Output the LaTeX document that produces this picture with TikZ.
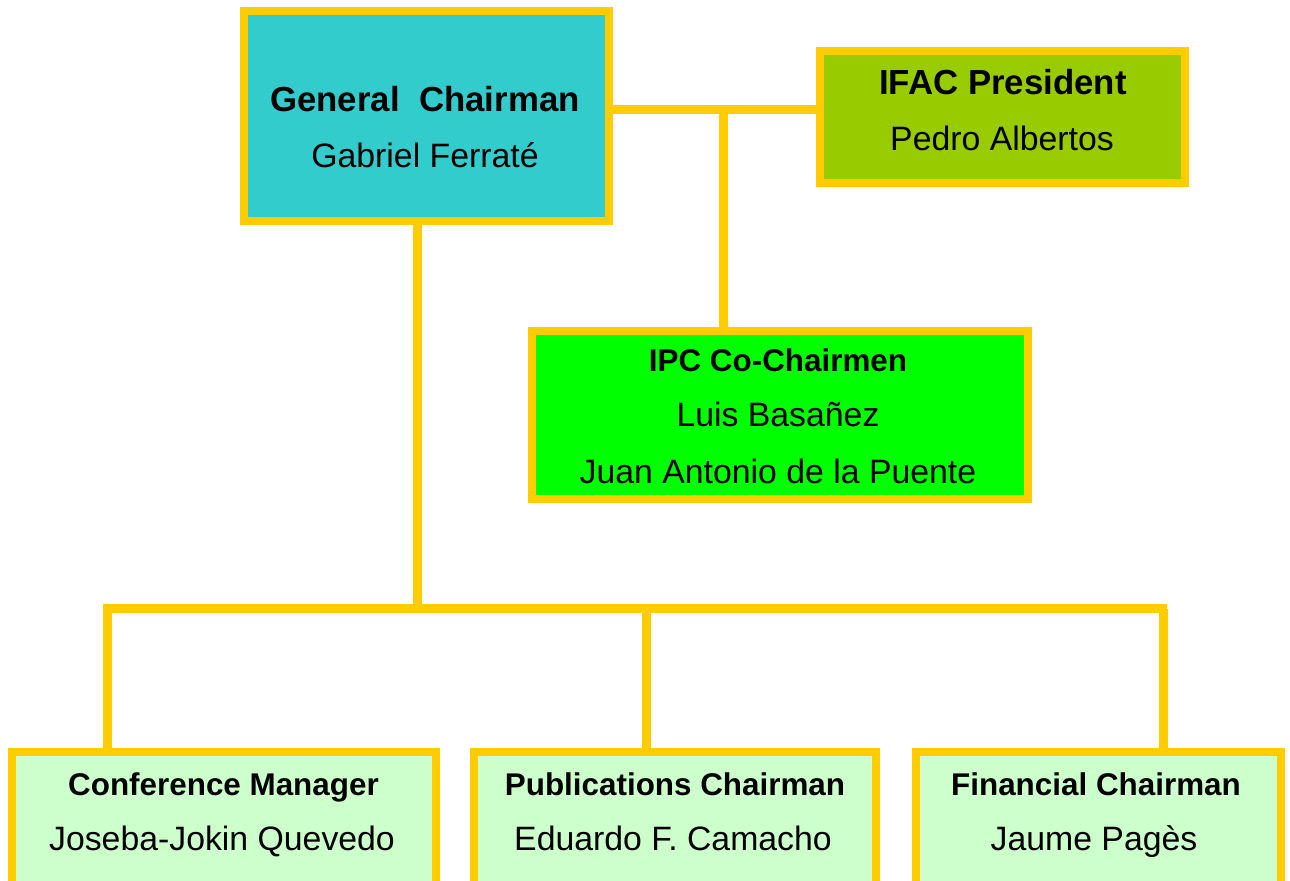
\documentclass[tikz,border=0pt]{standalone}
\usepackage{fontspec}
\setmainfont{Liberation Sans}
\usetikzlibrary{positioning}
\definecolor{frame}{HTML}{FFCC00}
\definecolor{gencol}{HTML}{33CCCC}
\definecolor{ifaccol}{HTML}{99CC00}
\definecolor{ipccol}{HTML}{00FF00}
\definecolor{subcol}{HTML}{CCFFCC}

\begin{document}
\begin{tikzpicture}[
            x=0.5pt, y=-0.5pt,
            post/.style={draw=frame, line width=4pt, inner sep=0pt},
            link/.style={frame, line width=4.5pt},
            bigrole/.style={anchor=base, font=\bfseries\fontsize{17.4}{20}\selectfont},
            role/.style={anchor=base, font=\bfseries\fontsize{15.7}{18}\selectfont},
            person/.style={anchor=base, font=\fontsize{16.9}{20}\selectfont}
        ]
            \useasboundingbox (0,0) rectangle (1290,881);
            \clip (0,0) rectangle (1290,881);
            % boxes
            \node [post, fill=gencol, minimum width=182.5pt, minimum height=105pt] (gen) at (426.5,116) {};
            \node [post, fill=ifaccol, minimum width=182.5pt, minimum height=66pt] (ifac) at (1002.5,117) {};
            \node [post, fill=ipccol, minimum width=248pt, minimum height=84pt] (ipc) at (780,415) {};
            \node [post, fill=subcol, minimum width=212.25pt, minimum height=104pt] (conf) at (223.75,856) {};
            \node [post, fill=subcol, minimum width=201pt, minimum height=104pt] (publ) at (675,856) {};
            \node [post, fill=subcol, minimum width=182.5pt, minimum height=104pt] (fin) at (1098.5,856) {};
            % links
            \coordinate (top) at (723.5,109.5);
            \coordinate (bus) at (417.5,608.5);
            \coordinate (busL) at (103,608.5);
            \coordinate (busR) at (1167,608.5);
            \draw [link] (top -| gen.east) -- (top -| ifac.west);
            \draw [link] (top) -- (top |- ipc.north);
            \draw [link] (bus |- gen.south) -- (bus);
            \draw [link] (busL) -- (busR);
            \foreach \col/\sub in {107.5/conf, 646.5/publ, 1163/fin}{
                \coordinate (drop) at (\col,608.5);
                \draw [link] (drop) -- (drop |- \sub.north);
            }
            % texts
            \node [bigrole] (genT) at (425,112) {General\ \ Chairman};
            \node [person] (genN) at (425,168) {Gabriel Ferraté};
            \node [bigrole] (ifacT) at (1003,95) {IFAC President};
            \node [person] (ifacN) at (1002,151) {Pedro Albertos};
            \node [role] (ipcT) at (778,372) {IPC Co-Chairmen};
            \node [person] (ipcN) at (778,427) {Luis Basañez};
            \node [person] (ipcM) at (778,484) {Juan Antonio de la Puente};
            \node [role] (confT) at (223.5,795) {Conference Manager};
            \node [person] (confN) at (222,850) {Joseba-Jokin Quevedo};
            \node [role] (publT) at (675,795) {Publications Chairman};
            \node [person] (publN) at (673,850) {Eduardo F. Camacho};
            \node [role] (finT) at (1096,795) {Financial Chairman};
            \node [person] (finN) at (1094,850) {Jaume Pagès};
        \end{tikzpicture}
\end{document}
